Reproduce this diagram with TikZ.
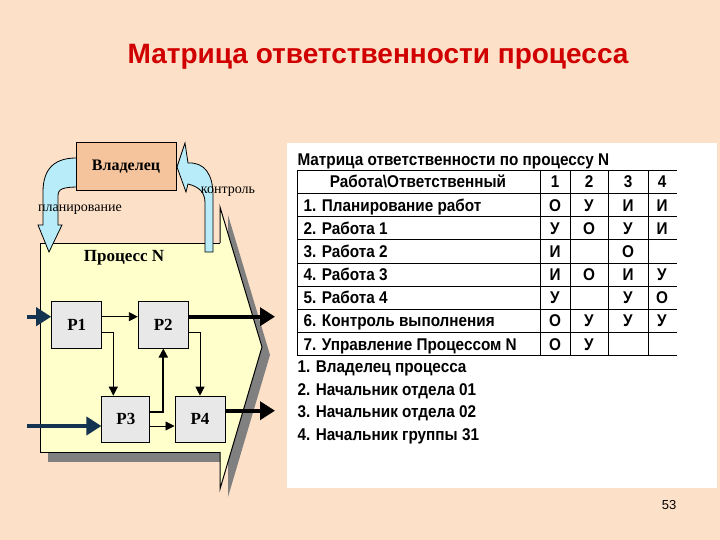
\documentclass[tikz,border=0pt]{standalone}
\usepackage{fontspec}
\setmainfont{Liberation Sans}
\newfontfamily\timesfont{Liberation Serif}
\newfontfamily\narrowfont[FakeStretch=0.9]{Liberation Sans}
\usetikzlibrary{arrows.meta,positioning}
\definecolor{peach}{HTML}{FDE0C8}
\definecolor{procyellow}{HTML}{FFFFCC}
\definecolor{boxgray}{HTML}{E8E8E8}
\definecolor{ownerorange}{HTML}{F5C49C}
\definecolor{arrowblue}{HTML}{B8ECF8}
\definecolor{shadowgray}{HTML}{808080}
\definecolor{navy}{HTML}{143350}
\definecolor{titlered}{HTML}{D00000}

\tikzset{
  pbox/.style={draw,fill=boxgray,minimum width=50pt,minimum height=47pt,
    font=\timesfont\bfseries\fontsize{17}{17}\selectfont},
  flow/.style={-{Triangle[length=9pt,width=9pt]},line width=0.9pt},
  feed/.style={-{Triangle[length=15pt,width=18pt]},line width=4pt,draw=navy,fill=navy},
  yield/.style={-{Triangle[length=15pt,width=18pt]},line width=4pt},
  blockarrow/.style={draw,fill=arrowblue,line width=0.8pt},
  rowtxt/.style={anchor=base west,inner sep=0pt,font=\narrowfont\bfseries\fontsize{17}{17}\selectfont},
  celltxt/.style={anchor=base,inner sep=0pt,font=\narrowfont\bfseries\fontsize{17}{17}\selectfont},
  smalllabel/.style={font=\timesfont\fontsize{14}{14}\selectfont}
}

\begin{document}
\begin{tikzpicture}[x=1pt,y=-1pt,line width=1pt]
  \fill[peach] (0,0) rectangle (720,540);
  \useasboundingbox (0,0) rectangle (720,540);

  \node[text=titlered,font=\bfseries\fontsize{28}{28}\selectfont] (title) at (378,57)
    {Матрица ответственности процесса};

  % process N
  \fill[shadowgray] (48,253) rectangle (228,462);
  \fill[shadowgray] (228,215) -- (270,355) -- (228,497) -- cycle;
  \draw[fill=procyellow] (220,207) -- (262,347) -- (220,489) -- cycle;
  \fill[procyellow] (40,243) rectangle (221,452);
  \draw (220,243) -- (40,243) -- (40,452) -- (220,452);
  \node[font=\timesfont\bfseries\fontsize{17}{17}\selectfont] (proc) at (124,258) {Процесс N};

  \draw[blockarrow] (80,158) .. controls (55,157) and (43,168) .. (43,192) -- (43,225)
    -- (38,225) -- (49,252) -- (62,225) -- (58,225) -- (58,196)
    .. controls (58,189) and (62,187) .. (80,187) -- cycle;
  \draw[blockarrow] (177,167) -- (185,143) -- (188,163)
    .. controls (205,162) and (213,175) .. (213,195) -- (213,252) -- (205,252) -- (205,203)
    .. controls (205,193) and (200,187) .. (188,184) -- (186,192) -- cycle;
  \node[draw,fill=ownerorange,minimum width=100pt,minimum height=48pt,
    font=\timesfont\bfseries\fontsize{16}{16}\selectfont] (owner) at (126,167) {Владелец};
  \node[smalllabel] (plan) at (80,210) {планирование};
  \node[smalllabel] (ctrl) at (228,192) {контроль};

  \node[pbox] (P1) at (76.7,324.5) {P1};
  \node[pbox] (P2) at (163.3,324.5) {P2};
  \node[pbox,minimum width=48pt,minimum height=46pt] (P3) at (125.9,419.2) {P3};
  \node[pbox,minimum height=46pt] (P4) at (200,419.2) {P4};

  \coordinate (in1) at (27,316.7);
  \coordinate (in2) at (27,426);
  \coordinate (k1) at (113.3,332.3);
  \coordinate (k2) at (200,332.3);
  \coordinate (k3) at (163.3,411.7);
  \coordinate (out1) at (275,316.7);
  \coordinate (out2) at (275,410.7);

  \draw[feed] (in1) -- (in1 -| P1.west);
  \draw[feed] (in2) -- (in2 -| P3.west);
  \draw[flow] (P1.east |- in1) -- (P2.west |- in1);
  \draw[flow] (P1.east |- k1) -| (P3.north -| k1);
  \draw[flow] (P2.east |- k2) -| (P4.north);
  \draw[flow,line width=1.8pt] (P3.east |- k3) -| (P2.south);
  \draw[flow] (P3.east |- in2) -- (P4.west |- in2);
  \draw[yield] (P2.east |- out1) -- (out1);
  \draw[yield] (P4.east |- out2) -- (out2);

  % matrix
  \fill[white] (287,143) rectangle (717,488);
  \node[rowtxt] (mtitle) at (297,166) {Матрица ответственности по процессу N};
  \foreach \k in {0,...,8}
    \draw (297,{170.5+23.15*\k}) -- (677,{170.5+23.15*\k});
  \foreach \x in {297,540,570,608,648}
    \draw (\x,170.5) -- (\x,355.7);
  \node[celltxt] (head) at (418,188) {Работа\textbackslash Ответственный};
  \foreach \n [count=\c] in {1,2,3,4} {
    \pgfmathsetmacro\cx{{555,589,628,662}[\c-1]}
    \node[celltxt] (h\c) at (\cx,188) {\n};
  }
  \foreach \t [count=\r] in {1. Планирование работ,2. Работа 1,3. Работа 2,4. Работа 3,
      5. Работа 4,6. Контроль выполнения,7. Управление Процессом N}
    \node[rowtxt] (row\r) at (303,{188+23.15*\r}) {\t};
  \foreach \vals [count=\r] in {{О,У,И,И},{У,О,У,И},{И,{},О,{}},{И,О,И,У},
      {У,{},У,О},{О,У,У,У},{О,У,{},{}}} {
    \foreach \v [count=\c] in \vals {
      \pgfmathsetmacro\cx{{555,589,628,662}[\c-1]}
      \node[celltxt] (c\r\c) at (\cx,{188+23.15*\r}) {\v};
    }
  }
  \foreach \t [count=\r] in {1. Владелец процесса,2. Начальник отдела 01,
      3. Начальник отдела 02,4. Начальник группы 31}
    \node[rowtxt] (leg\r) at (297,{350.5+22.4*\r}) {\t};

  \node[font=\fontsize{13}{13}\selectfont] (page) at (669,505) {53};
\end{tikzpicture}
\end{document}
